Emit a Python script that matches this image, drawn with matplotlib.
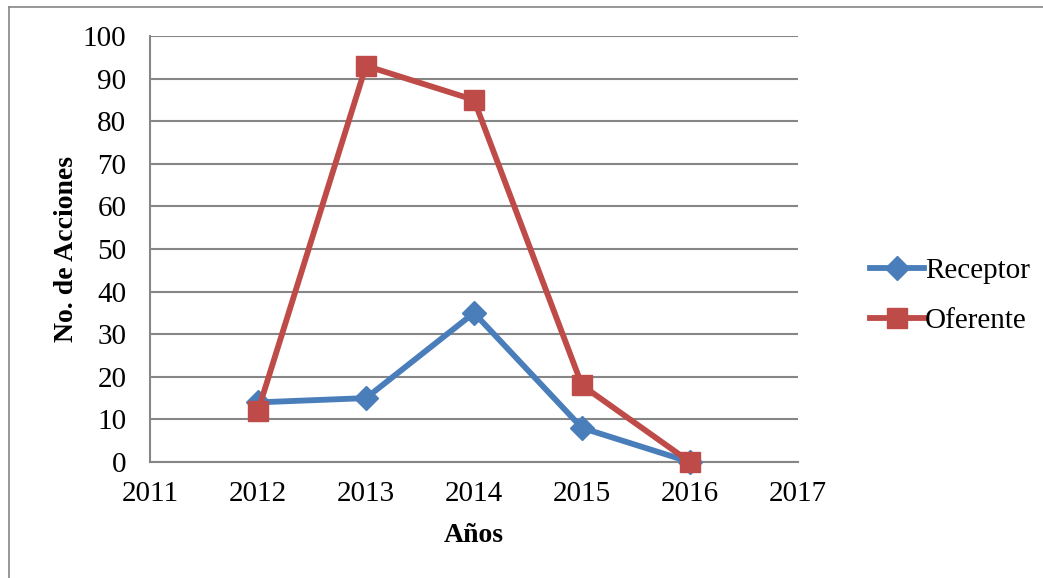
import matplotlib.pyplot as plt
from matplotlib.lines import Line2D

years = [2012, 2013, 2014, 2015, 2016]
receptor = [14, 15, 35, 8, 0]
oferente = [12, 93, 85, 18, 0]
series_names = ['Receptor', 'Oferente']

gray = '#868686'
blue = '#4A7EBB'
red = '#BE4B48'
font = 'Liberation Serif'

fig = plt.figure(figsize=(10.43, 5.78), dpi=100)
ax = fig.add_axes([150 / 1043, 116 / 578, 648 / 1043, 426 / 578])

ax.plot(years, receptor, color=blue, lw=4.2, marker='D', markersize=12,
        label=series_names[0], zorder=3, clip_on=False)
ax.plot(years, oferente, color=red, lw=4.2, marker='s', markersize=14.5,
        label=series_names[1], zorder=4, clip_on=False)

ax.set_xlim(2011, 2017)
ax.set_ylim(0, 100)
ax.set_xticks(range(2011, 2018))
ax.set_yticks(range(0, 101, 10))
ax.tick_params(length=0, labelsize=21)
ax.tick_params(axis='x', pad=14)
ax.tick_params(axis='y', pad=17)
for lab in ax.get_xticklabels() + ax.get_yticklabels():
    lab.set_fontfamily(font)
ax.yaxis.grid(True, color=gray, lw=1.5)
ax.set_axisbelow(True)
for s in ['top', 'right']:
    ax.spines[s].set_visible(False)
for s in ['left', 'bottom']:
    ax.spines[s].set_color(gray)
    ax.spines[s].set_linewidth(1.5)

ax.set_ylabel('No. de Acciones', fontsize=20, fontweight='bold', family=font, labelpad=3)
ax.set_xlabel('Años', fontsize=20, fontweight='bold', family=font, labelpad=11)

ax.legend(loc='center left', bbox_to_anchor=(1.07, 0.39), frameon=False,
          prop={'family': font, 'size': 21}, handlelength=1.85, handletextpad=0.05,
          labelspacing=0.8)

# outer frame (left and top edges visible)
fig.add_artist(Line2D([9 / 1043, 9 / 1043], [0, 1 - 7 / 578], color=gray, lw=1.2,
                      transform=fig.transFigure))
fig.add_artist(Line2D([9 / 1043, 1], [1 - 7 / 578, 1 - 7 / 578], color=gray, lw=1.2,
                      transform=fig.transFigure))

fig.savefig('out.png', dpi=100)
